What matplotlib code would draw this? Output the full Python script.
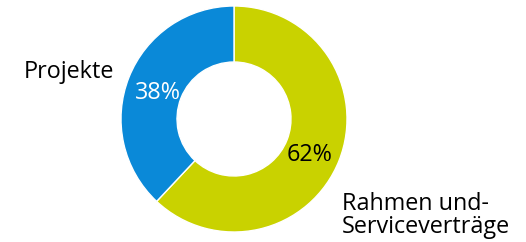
import matplotlib
matplotlib.use("Agg")
import matplotlib.pyplot as plt

# Daten
kategorien = ["Rahmen und-\nServiceverträge", "Projekte"]
anteile = [62, 38]
farben = ["#c9d200", "#0a89d8"]

W, H = 526, 242
fig = plt.figure(figsize=(W / 100, H / 100), dpi=100)
ax = fig.add_axes([0, 0, 1, 1])

ax.pie(anteile, startangle=90, counterclock=False, colors=farben,
       radius=113, center=(234, H - 119),
       wedgeprops=dict(width=56, edgecolor="white", linewidth=1))

ax.set_xlim(0, W)
ax.set_ylim(0, H)
ax.set_aspect("equal")
ax.axis("off")

FONT = ["Open Sans", "DejaVu Sans"]
FS = 16.8

# Prozentwerte
ax.text(158, H - 99, f"{anteile[1]}%", color="white", fontsize=FS,
        ha="center", va="baseline", family=FONT)
ax.text(310, H - 161, f"{anteile[0]}%", color="black", fontsize=FS,
        ha="center", va="baseline", family=FONT)

# Kategorien
ax.text(114, H - 78, kategorien[1], color="black", fontsize=FS,
        ha="right", va="baseline", family=FONT)
for i, zeile in enumerate(kategorien[0].split("\n")):
    ax.text(342, H - 210 - 23 * i, zeile, color="black", fontsize=FS,
            ha="left", va="baseline", family=FONT)

fig.savefig("out.png", dpi=100, facecolor="white")
